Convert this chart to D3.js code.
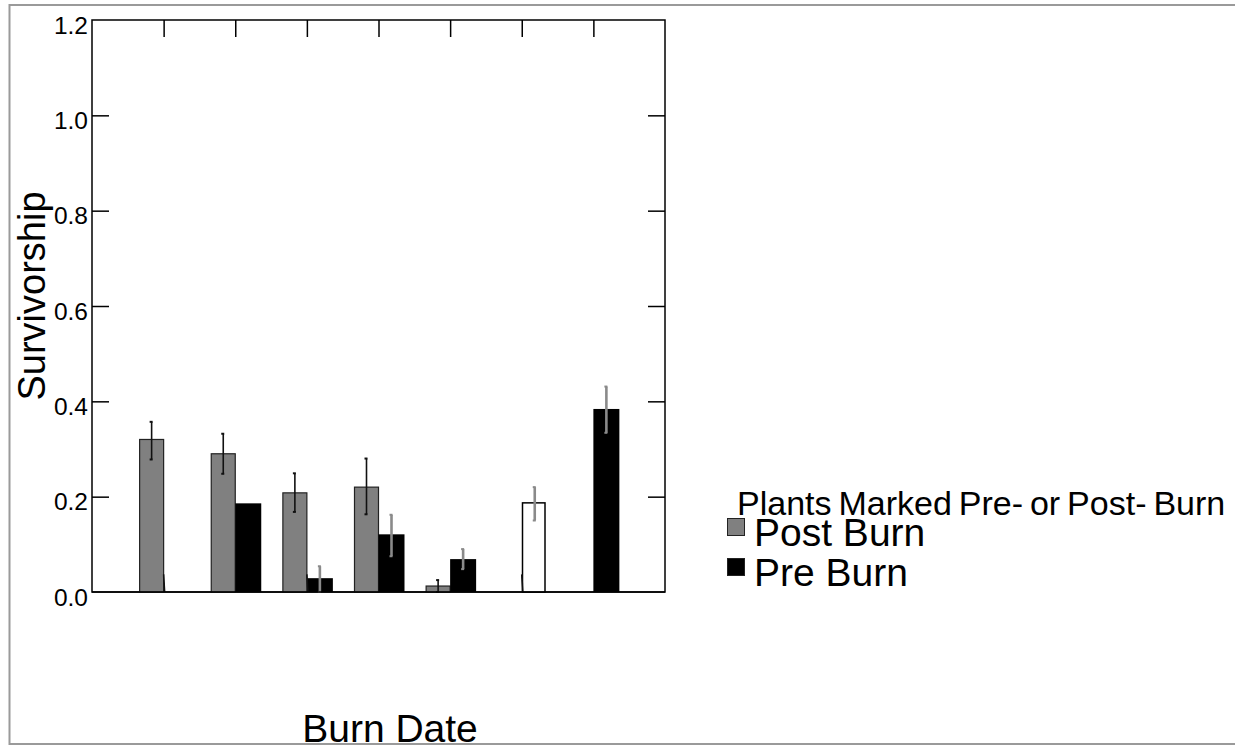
<!DOCTYPE html>
<html>
<head>
<meta charset="utf-8">
<script src="https://cdn.jsdelivr.net/npm/d3@7"></script>
<style>
  body { margin: 0; background: #fff; }
  text { font-family: "Liberation Sans", Arial, sans-serif; fill: #000; }
</style>
</head>
<body>
<div id="canvas"></div>
<script>
// data
const burnDates = ['1', '2', '3', '4', '5', '6', '7'];
const postValues = [0.32, 0.29, 0.208, 0.22, 0.0125, null, null];
const postLow = [0.278, 0.248, 0.168, 0.163, 0, null, null];
const postHigh = [0.357, 0.332, 0.249, 0.28, 0.025, null, null];
const preValues = [null, 0.186, 0.029, 0.121, 0.069, 0.187, 0.384];
const preLow = [null, null, 0, 0.075, 0.048, 0.15, 0.334];
const preHigh = [null, null, 0.054, 0.162, 0.09, 0.22, 0.431];
// short dark marks sitting on the baseline in the middle of some groups
const centerMarks = [0.037, null, 0.037, null, null, 0.037, null];
const hollowDates = ['6'];
const yTicks = [0, 0.2, 0.4, 0.6, 0.8, 1.0, 1.2];
const seriesNames = ['Post Burn', 'Pre Burn'];

// constants
const width = 1235;
const height = 748;
const plotLeft = 92;
const plotRight = 665;
const plotTop = 20;
const plotBottom = 592;
const tickLen = 17;
const barW = 24;

const svg = d3.select('#canvas')
    .append('svg').attr('width', width).attr('height', height);

// outer grey border (right side runs off the page)
svg.append('path')
    .attr('d', `M${width + 5},5 H9.5 V744 H${width + 5}`)
    .attr('fill', 'none')
    .attr('stroke', '#9a9a9a')
    .attr('stroke-width', 2);

// scales
const x = d3.scalePoint()
    .domain(burnDates)
    .range([plotLeft, plotRight])
    .padding(1);
const y = d3.scaleLinear()
    .domain([0, 1.2])
    .range([plotBottom, plotTop]);

// frame
svg.append('rect')
    .attr('x', plotLeft).attr('y', plotTop)
    .attr('width', plotRight - plotLeft).attr('height', plotBottom - plotTop)
    .attr('fill', 'none')
    .attr('stroke', '#000')
    .attr('stroke-width', 1.5);

// left axis: ticks point inward
const yLeft = d3.axisRight(y)
    .tickValues(yTicks)
    .tickSize(tickLen)
    .tickFormat(d3.format('.1f'));
const gLeft = svg.append('g')
    .attr('transform', `translate(${plotLeft},0)`)
    .call(yLeft);
gLeft.select('.domain').remove();
gLeft.selectAll('.tick line')
    .attr('stroke-width', 1.5)
    .attr('display', d => (d === 0 || d === 1.2) ? 'none' : null);
gLeft.selectAll('.tick text')
    .attr('x', -4)
    .attr('dy', '0.54em')
    .attr('text-anchor', 'end')
    .style('font-size', '24.5px')
    .style('font-family', '"Liberation Sans", Arial, sans-serif')
    .attr('fill', '#000');

// right axis ticks, inward
const yRight = d3.axisLeft(y)
    .tickValues(yTicks.filter(d => d > 0 && d < 1.2))
    .tickSize(tickLen)
    .tickFormat('');
const gRight = svg.append('g')
    .attr('transform', `translate(${plotRight},0)`)
    .call(yRight);
gRight.select('.domain').remove();
gRight.selectAll('.tick line').attr('stroke-width', 1.5);

// top ticks at each burn date, inward
const xTop = d3.axisBottom(x)
    .tickSize(tickLen)
    .tickFormat('');
const gTop = svg.append('g')
    .attr('transform', `translate(0,${plotTop})`)
    .call(xTop);
gTop.select('.domain').remove();
gTop.selectAll('.tick line').attr('stroke-width', 1.5);

// bars
const rows = burnDates.map((d, i) => ({
    date: d,
    post: postValues[i], postLow: postLow[i], postHigh: postHigh[i],
    pre: preValues[i], preLow: preLow[i], preHigh: preHigh[i],
    mark: centerMarks[i]
}));

svg.append('g').selectAll('rect')
    .data(rows.filter(r => r.post !== null))
    .join('rect')
    .attr('x', r => x(r.date) - barW)
    .attr('y', r => y(r.post))
    .attr('width', barW)
    .attr('height', r => y(0) - y(r.post))
    .attr('fill', '#808080')
    .attr('stroke', '#222')
    .attr('stroke-width', 1.2);

svg.append('g').selectAll('rect')
    .data(rows.filter(r => r.pre !== null))
    .join('rect')
    .attr('x', r => x(r.date) + (hollowDates.includes(r.date) ? 0.75 : 0))
    .attr('y', r => y(r.pre))
    .attr('width', r => hollowDates.includes(r.date) ? barW - 1.5 : barW + 2)
    .attr('height', r => y(0) - y(r.pre))
    .attr('fill', r => hollowDates.includes(r.date) ? '#fff' : '#000')
    .attr('stroke', r => hollowDates.includes(r.date) ? '#000' : 'none')
    .attr('stroke-width', 1.5);

// error bars
function errorBar(g, cx, lo, hi, colour, w) {
    g.append('line')
        .attr('x1', cx).attr('x2', cx)
        .attr('y1', y(lo)).attr('y2', y(hi))
        .attr('stroke', colour).attr('stroke-width', w);
    [lo, hi].forEach(v => {
        g.append('line')
            .attr('x1', cx - 2).attr('x2', cx + 1)
            .attr('y1', y(v)).attr('y2', y(v))
            .attr('stroke', colour).attr('stroke-width', 2);
    });
}
const gErr = svg.append('g');
rows.forEach(r => {
    if (r.postHigh !== null) errorBar(gErr, x(r.date) - barW / 2, r.postLow, r.postHigh, '#111', 1.6);
    if (r.preHigh !== null) errorBar(gErr, x(r.date) + barW / 2 + 1, r.preLow, r.preHigh, '#8a8a8a', 2.6);
    if (r.mark !== null) {
        gErr.append('line')
            .attr('x1', x(r.date) + 1).attr('x2', x(r.date))
            .attr('y1', y(0)).attr('y2', y(r.mark))
            .attr('stroke', '#111').attr('stroke-width', 1.6);
    }
});

// baseline on top of the bars
svg.append('line')
    .attr('x1', plotLeft).attr('x2', plotRight)
    .attr('y1', plotBottom).attr('y2', plotBottom)
    .attr('stroke', '#000').attr('stroke-width', 1.5);

// axis titles
svg.append('text')
    .text('Survivorship')
    .attr('transform', `translate(45,296) rotate(-90)`)
    .attr('text-anchor', 'middle')
    .style('font-size', '38px');
svg.append('text')
    .text('Burn Date')
    .attr('x', 390)
    .attr('y', 742)
    .attr('text-anchor', 'middle')
    .style('font-size', '39px');

// legend
const legend = svg.append('g');
legend.append('text')
    .text('Plants Marked Pre- or Post- Burn')
    .attr('x', 737)
    .attr('y', 515)
    .style('font-size', '34px')
    .style('word-spacing', '-2.5px');
const legendFill = ['#808080', '#000'];
seriesNames.forEach((name, i) => {
    legend.append('rect')
        .attr('x', 727.5)
        .attr('y', 518.5 + i * 40)
        .attr('width', 17)
        .attr('height', 17)
        .attr('fill', legendFill[i])
        .attr('stroke', '#222')
        .attr('stroke-width', 1);
    legend.append('text')
        .text(name)
        .attr('x', 754)
        .attr('y', 546 + i * 40)
        .style('font-size', '39px');
});
</script>
</body>
</html>
